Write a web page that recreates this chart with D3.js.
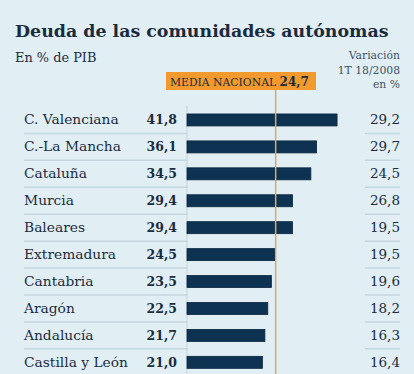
<!DOCTYPE html>
<html>
<head>
<meta charset="utf-8">
<script src="https://cdn.jsdelivr.net/npm/d3@7"></script>
<style>
  html, body { margin: 0; padding: 0; background: #e1eff4; }
  svg { display: block; }
  text { font-family: "DejaVu Serif", serif; fill: #1b2b3d; }
</style>
</head>
<body>
<script>
// Datos
const regiones = ["C. Valenciana", "C.-La Mancha", "Cataluña", "Murcia", "Baleares",
  "Extremadura", "Cantabria", "Aragón", "Andalucía", "Castilla y León"];
const deuda = [41.8, 36.1, 34.5, 29.4, 29.4, 24.5, 23.5, 22.5, 21.7, 21.0];
const variacion = [29.2, 29.7, 24.5, 26.8, 19.5, 19.5, 19.6, 18.2, 16.3, 16.4];
const mediaNacional = 24.7;

const width = 414, height = 374;
const fmt = v => d3.format(".1f")(v).replace(".", ",");

const svg = d3.select("body").append("svg")
  .attr("width", width)
  .attr("height", height);

svg.append("rect").attr("width", width).attr("height", height).attr("fill", "#e1eff4");

// Escalas
const x = d3.scaleLinear().domain([0, 10]).range([187, 222.9]);
const y = d3.scaleBand().domain(regiones).range([106.5, 375.8]).padding(0);

const filas = regiones.map((r, i) => ({region: r, deuda: deuda[i], variacion: variacion[i]}));

// Titulos
svg.append("text")
  .attr("x", 15).attr("y", 36.5)
  .style("font-size", "17.4px").style("font-weight", "bold")
  .text("Deuda de las comunidades autónomas");

svg.append("text")
  .attr("x", 15).attr("y", 62)
  .style("font-size", "12.9px")
  .text("En % de PIB");

const varTxt = svg.append("text")
  .attr("text-anchor", "end")
  .style("font-size", "10.8px").style("fill", "#3f5163");
["Variación", "1T 18/2008", "en %"].forEach((t, i) => {
  varTxt.append("tspan").attr("x", 400).attr("y", 59 + i * 14.7).text(t);
});

// Separadores
filas.slice(0, filas.length - 1).forEach(d => {
  const yy = y(d.region) + y.bandwidth();
  svg.append("line").attr("x1", 24).attr("x2", 187).attr("y1", yy).attr("y2", yy)
    .attr("stroke", "#c3d6de").attr("stroke-width", 1.5);
  svg.append("line").attr("x1", 365).attr("x2", 400).attr("y1", yy).attr("y2", yy)
    .attr("stroke", "#c3d6de").attr("stroke-width", 1.5);
});

// Eje vertical
svg.append("line")
  .attr("x1", x(0)).attr("x2", x(0)).attr("y1", 106).attr("y2", height)
  .attr("stroke", "#c5d2d8").attr("stroke-width", 1);

// Filas
const fila = svg.selectAll(".fila")
  .data(filas)
  .enter().append("g")
  .attr("class", "fila")
  .attr("transform", d => "translate(0," + (y(d.region) + y.bandwidth() / 2) + ")");

fila.append("rect")
  .attr("x", x(0))
  .attr("y", -6)
  .attr("height", 12)
  .attr("width", d => x(d.deuda) - x(0))
  .attr("fill", "#0e3352")
  .attr("stroke", "#08263f")
  .attr("stroke-width", 0.8);

fila.append("text")
  .attr("x", 24).attr("y", 4.5)
  .style("font-size", "13.8px")
  .text(d => d.region);

fila.append("text")
  .attr("x", 177).attr("y", 4.5)
  .attr("text-anchor", "end")
  .style("font-size", "12.5px").style("font-weight", "bold")
  .text(d => fmt(d.deuda));

fila.append("text")
  .attr("x", 400).attr("y", 4.5)
  .attr("text-anchor", "end")
  .style("font-size", "13.5px")
  .text(d => fmt(d.variacion));

// Media nacional
svg.append("line")
  .attr("x1", x(mediaNacional)).attr("x2", x(mediaNacional))
  .attr("y1", 90).attr("y2", height)
  .attr("stroke", "#d9a772").attr("stroke-width", 1.5);

svg.append("rect")
  .attr("x", 166).attr("y", 72).attr("width", 150).attr("height", 18)
  .attr("fill", "#f39a2e");

const mediaTxt = svg.append("text")
  .attr("x", 170).attr("y", 85.5);
mediaTxt.append("tspan").style("font-size", "10.8px").text("MEDIA NACIONAL ");
mediaTxt.append("tspan").style("font-size", "12px").style("font-weight", "bold")
  .text(fmt(mediaNacional));
</script>
</body>
</html>
